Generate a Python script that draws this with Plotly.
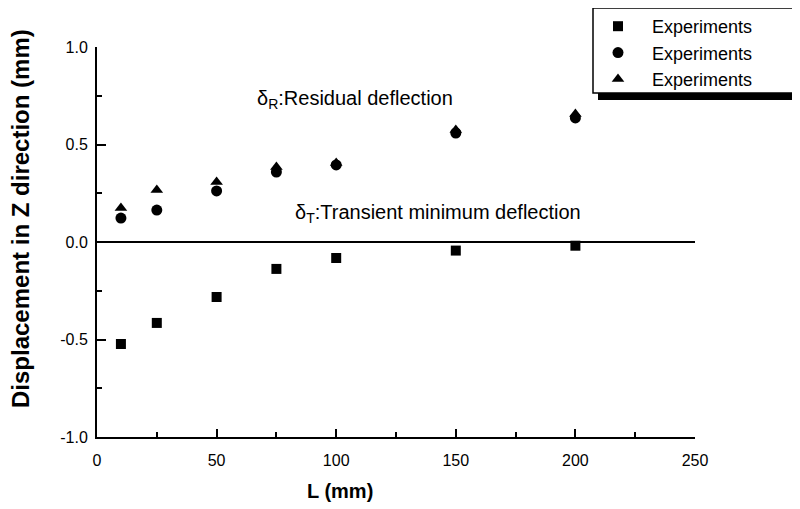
import plotly.graph_objects as go

L_mm = [10, 25, 50, 75, 100, 150, 200]
delta_T_squares = [-0.523, -0.415, -0.282, -0.138, -0.082, -0.044, -0.019]
delta_R_circles = [0.123, 0.164, 0.262, 0.359, 0.395, 0.559, 0.636]
delta_R_triangles = [0.174, 0.267, 0.308, 0.385, 0.405, 0.574, 0.656]
legend_names = ["Experiments", "Experiments", "Experiments"]
x_ticks = [0, 50, 100, 150, 200, 250]
y_ticks = [-1.0, -0.5, 0.0, 0.5, 1.0]
y_tick_text = ["-1.0", "-0.5", "0.0", "0.5", "1.0"]

FONT = "Liberation Sans, Arial, sans-serif"

fig = go.Figure()
fig.add_trace(go.Scatter(x=L_mm, y=delta_T_squares, mode="markers", name=legend_names[0],
                         marker=dict(symbol="square", size=10, color="black")))
fig.add_trace(go.Scatter(x=L_mm, y=delta_R_circles, mode="markers", name=legend_names[1],
                         marker=dict(symbol="circle", size=11, color="black")))
fig.add_trace(go.Scatter(x=L_mm, y=delta_R_triangles, mode="markers", name=legend_names[2],
                         marker=dict(symbol="triangle-up", size=11, color="black")))

# zero reference line
fig.add_shape(type="line", xref="x", yref="y", x0=0, x1=250, y0=0, y1=0,
              line=dict(color="black", width=2))


def px2paper_x(px):
    return (px - 97) / 598


def px2paper_y(py):
    return (437 - py) / 390


# legend frame with shadow (paper coords)
fig.add_shape(type="rect", xref="paper", yref="paper", x0=px2paper_x(598), x1=1.3,
              y0=px2paper_y(100), y1=px2paper_y(60),
              fillcolor="black", line=dict(width=0), layer="above")
fig.add_shape(type="rect", xref="paper", yref="paper", x0=px2paper_x(593), x1=1.3,
              y0=px2paper_y(93), y1=px2paper_y(8),
              fillcolor="white", line=dict(color="black", width=1.5), layer="above")

fig.add_annotation(x=px2paper_x(255), y=px2paper_y(100), xref="paper", yref="paper",
                   xanchor="left", yanchor="middle", showarrow=False,
                   text="δ<sub>R</sub>:Residual deflection",
                   font=dict(family=FONT, size=20, color="black"))
fig.add_annotation(x=px2paper_x(293), y=px2paper_y(213), xref="paper", yref="paper",
                   xanchor="left", yanchor="middle", showarrow=False,
                   text="δ<sub>T</sub>:Transient minimum deflection",
                   font=dict(family=FONT, size=20, color="black"))
fig.add_annotation(x=px2paper_x(340), y=px2paper_y(491), xref="paper", yref="paper",
                   xanchor="center", yanchor="middle", showarrow=False,
                   text="<b>L (mm)</b>",
                   font=dict(family=FONT, size=20, color="black"))
fig.add_annotation(x=px2paper_x(20), y=px2paper_y(219), xref="paper", yref="paper",
                   xanchor="center", yanchor="middle", showarrow=False, textangle=-90,
                   text="<b>Displacement in Z direction (mm)</b>",
                   font=dict(family=FONT, size=24, color="black"))

fig.update_xaxes(range=[0, 250], tickvals=x_ticks, ticks="inside", ticklen=8, tickwidth=2,
                 tickcolor="black", showline=True, linecolor="black", linewidth=2,
                 showgrid=False, zeroline=False, ticklabelstandoff=8, automargin=False,
                 minor=dict(ticks="inside", ticklen=5, tickwidth=1.5, tickcolor="black", dtick=25, showgrid=False),
                 tickfont=dict(family=FONT, size=16, color="black"))
fig.update_yaxes(range=[-1, 1], tickvals=y_ticks, ticktext=y_tick_text, ticks="inside", ticklen=9,
                 tickwidth=2, tickcolor="black", showline=True, linecolor="black", linewidth=2,
                 showgrid=False, zeroline=False, ticklabelstandoff=4, automargin=False,
                 minor=dict(ticks="inside", ticklen=5, tickwidth=1.5, tickcolor="black", dtick=0.25, showgrid=False),
                 tickfont=dict(family=FONT, size=16, color="black"))

# page body has an 8px margin, so the figure is offset by 8px; compensate
fig.update_layout(
    width=792, height=501,
    margin=dict(l=89, r=105, t=39, b=72, autoexpand=False),
    plot_bgcolor="white", paper_bgcolor="white",
    showlegend=True,
    legend=dict(x=px2paper_x(584), y=px2paper_y(8), xanchor="left", yanchor="top",
                bgcolor="rgba(0,0,0,0)", borderwidth=0, itemwidth=58,
                font=dict(family=FONT, size=18, color="black")),
)

fig.write_html("out.html")
